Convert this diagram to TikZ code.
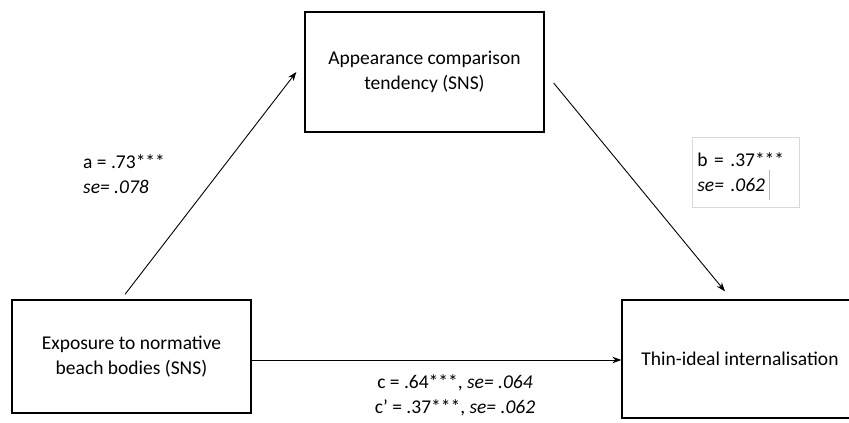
\documentclass[tikz,border=0pt]{standalone}
\usepackage{fontspec}
\setmainfont{Carlito}
\usetikzlibrary{arrows.meta,shadows}
\begin{document}
\begin{tikzpicture}[x=1pt,y=-1pt,
  varbox/.style={draw=black, line width=1.3pt, fill=white, align=center,
    font=\fontsize{19.5}{25}\selectfont, inner sep=0pt,
    drop shadow={opacity=0.25, shadow xshift=1.2pt, shadow yshift=-1.2pt}},
  lbl/.style={font=\fontsize{19.5}{25}\selectfont, inner sep=0pt},
  arr/.style={line width=0.9pt, -{Stealth[length=9pt,width=6.5pt]}}]
\useasboundingbox (0,0) rectangle (849,423);
\node[varbox, minimum width=239pt, minimum height=120pt] (tbox) at (424.5,72)
  {Appearance comparison\\tendency (SNS)};
\node[varbox, minimum width=239pt, minimum height=113pt] (lbox) at (131.5,356.5)
  {Exposure to normative\\beach bodies (SNS)};
\node[varbox, minimum width=236pt, minimum height=118pt] (rbox) at (740,359)
  {Thin-ideal internalisation};
\coordinate (a1) at ([xshift=-6.5pt,yshift=5pt]lbox.north);
\coordinate (a2) at ([xshift=-8pt]tbox.west);
\coordinate (b1) at ([xshift=9pt,yshift=-11pt]tbox.east);
\coordinate (b2) at ([xshift=-15pt,yshift=8pt]rbox.north);
\coordinate (c1) at ([yshift=-3.5pt]lbox.east);
\draw[arr] (a1) -- (a2);
\draw[arr] (b1) -- (b2);
\draw[arr] (c1) -- (c1 -| rbox.west);
\node[lbl, align=left, anchor=west] (alab) at (83,174.5)
  {a = .73***\\\textit{se= .078}};
\node[lbl, draw=gray!30, line width=0.8pt, align=left, text width=97pt,
  inner xsep=5pt, minimum height=70pt, anchor=north west] (blab) at (692,137)
  {b = .37***\\\textit{se= .062}};
\draw[gray!55, line width=1pt] (769.5,170) -- (769.5,200);
\node[lbl, align=center] (clab) at (455,395)
  {c = .64***, \textit{se= .064}\\c’ = .37***, \textit{se= .062}};
\end{tikzpicture}
\end{document}
